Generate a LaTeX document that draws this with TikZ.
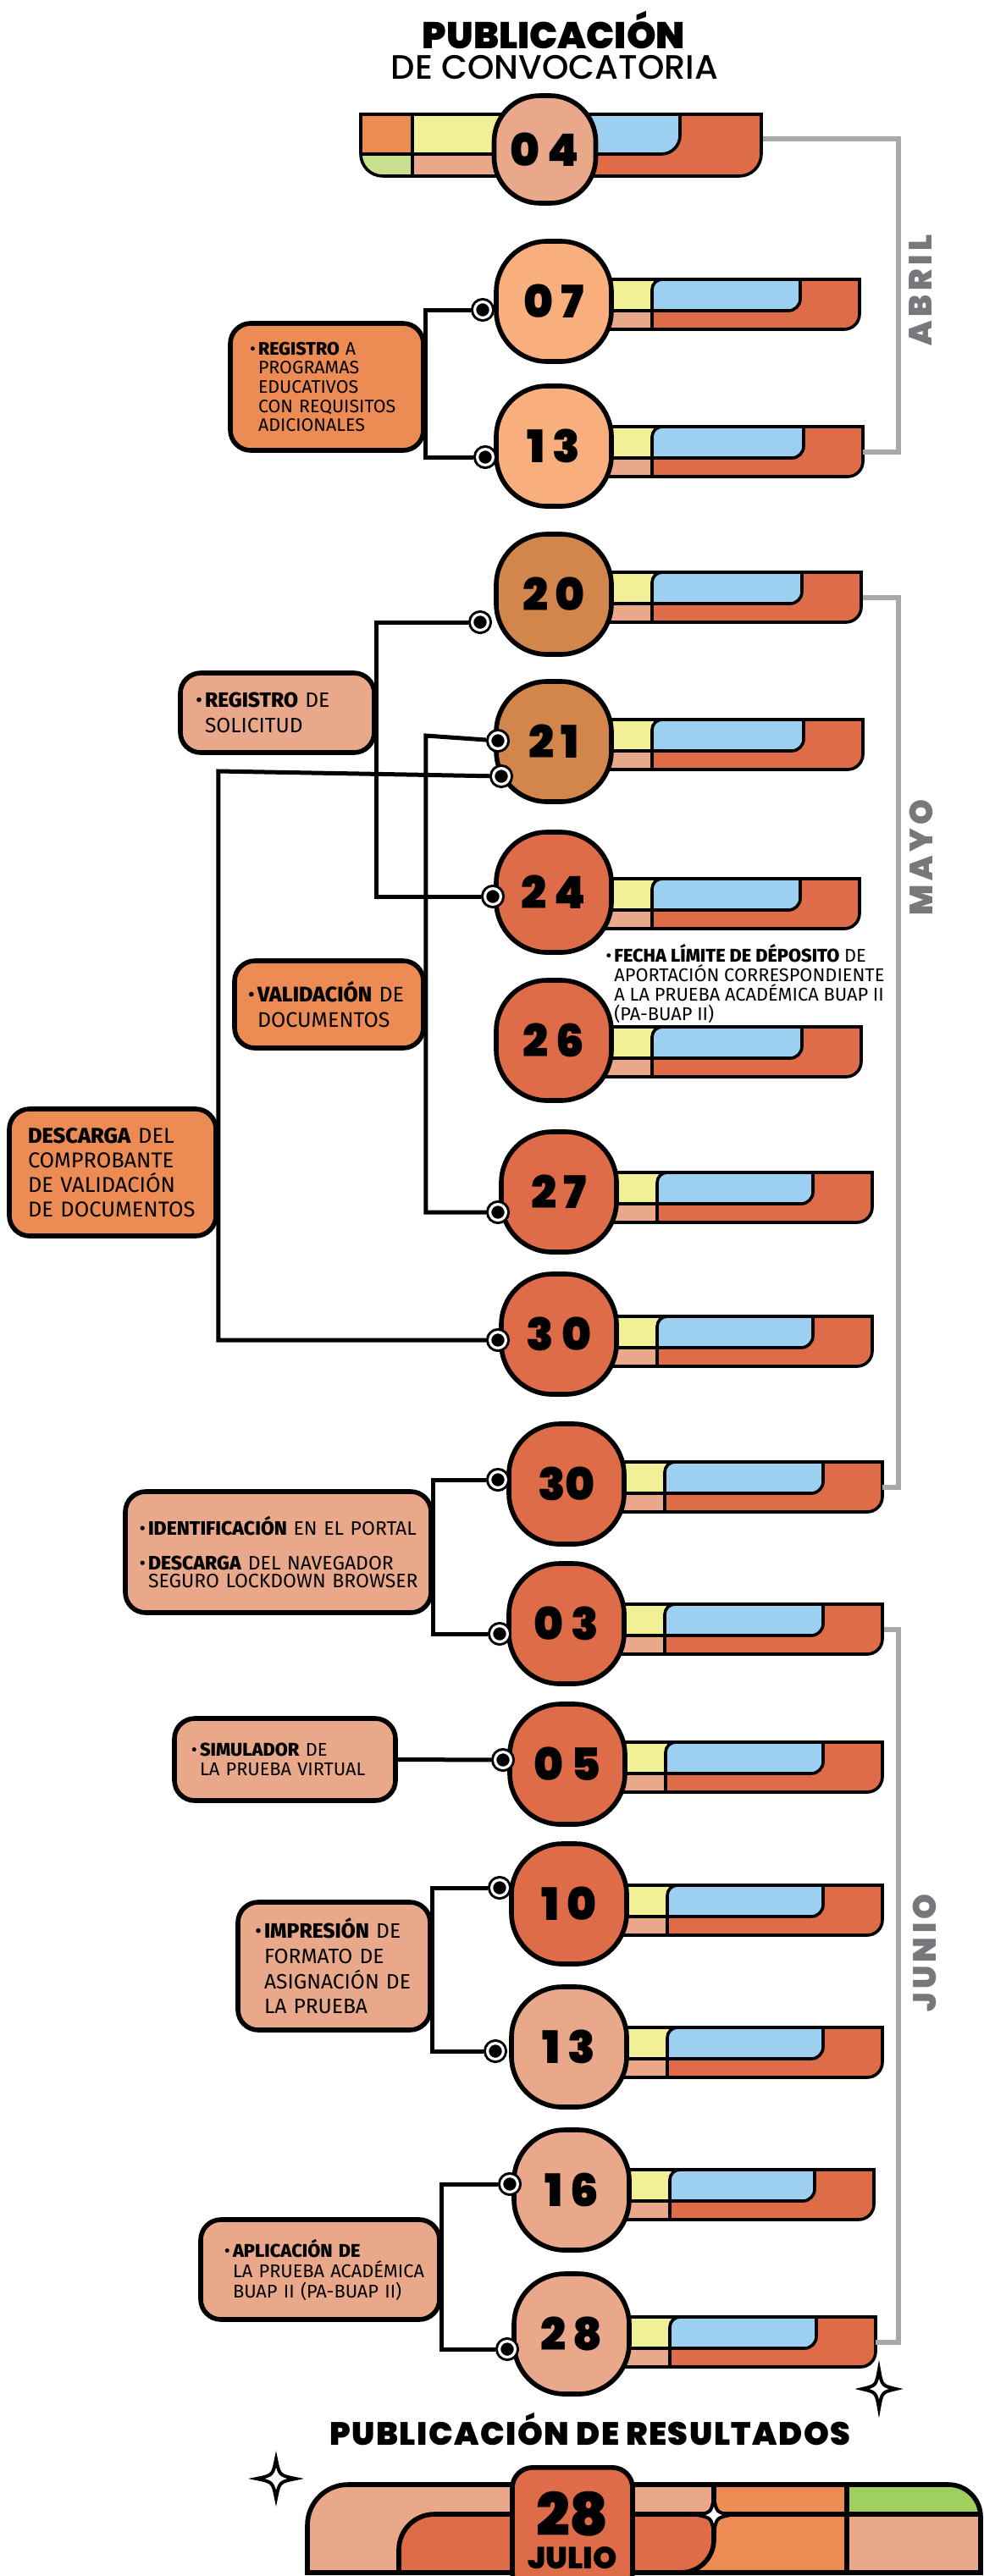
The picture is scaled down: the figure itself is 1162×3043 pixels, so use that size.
\documentclass[tikz,border=0pt]{standalone}
\usepackage{fontspec}
\setmainfont{Fira Sans}[BoldFont={* ExtraBold}]
\newfontfamily\gruesa{Poppins Black}
\newfontfamily\media{Poppins Medium}
\usetikzlibrary{positioning}

\definecolor{rosa}{HTML}{E9A88A}
\definecolor{naranja}{HTML}{EC8B53}
\definecolor{durazno}{HTML}{F8AF7D}
\definecolor{cafe}{HTML}{D3864B}
\definecolor{rojo}{HTML}{DE6C48}
\definecolor{amarillo}{HTML}{F2F096}
\definecolor{azul}{HTML}{9DCFF0}
\definecolor{verdeclaro}{HTML}{C9DF8E}
\definecolor{verde}{HTML}{9FCF5F}
\definecolor{grislinea}{HTML}{A7A8AA}
\definecolor{gristexto}{HTML}{76787B}

\newcommand{\vineta}{\leavevmode\llap{\textbullet\kern1.5pt}}

\begin{document}
\begin{tikzpicture}[
    x = 0.5pt, y = 0.5pt,
    borde/.style = {draw=black, line width=1.8pt},
    dia/.style = {rectangle, rounded corners=30pt, draw, line width=2.8pt,
        minimum width=68pt, minimum height=71pt, inner sep=0pt,
        font=\gruesa\fontsize{26.5}{26.5}\selectfont},
    caja/.style = {rectangle, rounded corners=12pt, draw, line width=2.8pt,
        align=left, inner ysep=0pt,
        execute at begin node={\hyphenpenalty=10000\exhyphenpenalty=10000}},
    punto/.style = {circle, draw=black, double=white, double distance=1.6pt,
        line width=1.5pt, fill=black, minimum size=9.4pt, inner sep=0pt, outer sep=2.3pt},
    linea/.style = {line width=2.5pt},
    mes/.style = {draw=grislinea, line width=2.6pt, shorten <=1pt},
    mesnombre/.style = {text=gristexto, rotate=90,
        font=\gruesa\fontsize{19}{19}\selectfont\addfontfeature{LetterSpace=12}},
    pics/fecha/.style n args = {4}{code={
        % barra: amarillo, rosa, azul y rojo
        \begin{scope}[yshift=#4]
        \fill[rojo] (0,26) -- (#3,26) -- (#3,-15) arc[start angle=0, end angle=-90, radius=18] -- (0,-33) -- cycle;
        \fill[amarillo] (0,26) rectangle (128,-11);
        \fill[rosa] (0,-11) rectangle (116,-33);
        \filldraw[fill=azul, borde] (116,-11) -- (116,14) arc[start angle=180, end angle=90, radius=12]
            -- (#3-70,26) -- (#3-70,3) arc[start angle=0, end angle=-90, radius=14] -- cycle;
        \draw[borde] (116,-11) -- (116,-33) (0,-11) -- (116,-11);
        \draw[borde] (0,26) -- (#3,26) -- (#3,-15) arc[start angle=0, end angle=-90, radius=18] -- (0,-33);
        \coordinate (-fin) at (#3,-4);
        \end{scope}
        \node[dia, fill=#2] (-n) at (0,0) {#1};
    }},
    estrella/.pic = {
        \draw[line width=2pt, fill=white] (0,1) .. controls (0.17,0.17) .. (1,0)
            .. controls (0.17,-0.17) .. (0,-1) .. controls (-0.17,-0.17) .. (-1,0)
            .. controls (-0.17,0.17) .. (0,1) -- cycle;
    }
]
    \useasboundingbox (0,0) rectangle (1162,-3043);

    % titulo
    \node[font=\gruesa\fontsize{22}{22}\selectfont, anchor=base, inner sep=0pt] (pub) at (654,-57) {PUBLICACIÓN};
    \node[font=\media\fontsize{20}{20}\selectfont, anchor=base, inner sep=0pt] (conv) at (655,-93) {DE CONVOCATORIA};

    % barra del 04
    \fill[rojo] (600,-135) -- (899,-135) -- (899,-182) arc[start angle=0, end angle=-90, radius=26] -- (600,-208) -- cycle;
    \fill[naranja] (426,-135) rectangle (487,-182);
    \fill[verdeclaro] (426,-182) -- (487,-182) -- (487,-208) -- (452,-208) arc[start angle=270, end angle=180, radius=26] -- cycle;
    \fill[amarillo] (487,-135) rectangle (600,-182);
    \fill[rosa] (487,-182) rectangle (600,-208);
    \filldraw[fill=azul, borde] (600,-135) -- (803,-135) -- (803,-160) arc[start angle=0, end angle=-90, radius=22] -- (600,-182) -- cycle;
    \draw[borde] (487,-135) -- (487,-208) (426,-182) -- (600,-182);
    \draw[borde] (426,-135) -- (899,-135) -- (899,-182) arc[start angle=0, end angle=-90, radius=26]
        -- (452,-208) arc[start angle=270, end angle=180, radius=26] -- cycle;
    \node[dia, fill=rosa, minimum width=60pt, minimum height=63.5pt, rounded corners=27pt] (f04) at (643.5,-176.5) {0\,4};
    \coordinate (fin04) at (899,-164);

    % fechas
    \pic (f07) at (654,-356) {fecha={0\,7}{durazno}{361}{0pt}};
    \pic (f13) at (654,-527) {fecha={1\,3}{durazno}{365}{-1.5pt}};
    \pic (f20) at (654,-702) {fecha={2\,0}{cafe}{363}{0pt}};
    \pic (f21) at (654,-876) {fecha={2\,1}{cafe}{365}{0pt}};
    \pic (f24) at (654,-1054) {fecha={2\,4}{rojo}{361}{-5pt}};
    \pic (f26) at (654,-1229) {fecha={2\,6}{rojo}{363}{-5pt}};
    \pic (f27) at (660,-1408) {fecha={2\,7}{rojo}{370}{-1.5pt}};
    \pic (f30) at (660,-1576) {fecha={3\,0}{rojo}{370}{-2.5pt}};
    \pic (f30b) at (669,-1753) {fecha={30}{rojo}{373}{0pt}};
    \pic (f03) at (669,-1918) {fecha={0\,3}{rojo}{373}{-1.5pt}};
    \pic (f05) at (670,-2084) {fecha={0\,5}{rojo}{372}{0pt}};
    \pic (f10) at (672,-2249) {fecha={1\,0}{rojo}{370}{-2pt}};
    \pic (f13j) at (672,-2418) {fecha={1\,3}{rosa}{370}{-1.5pt}};
    \pic (f16) at (675,-2587) {fecha={1\,6}{rosa}{357}{-1pt}};
    \pic (f28) at (675,-2757) {fecha={2\,8}{rosa}{359}{-3pt}};

    % actividades
    \node[caja, fill=naranja, text width=81pt, inner xsep=16.5pt, minimum height=75pt,
        font=\fontsize{10.7}{11.3}\selectfont] (regA) at (386,-457)
        {\vineta\textbf{REGISTRO}~A\\PROGRAMAS\\EDUCATIVOS\\CON~REQUISITOS\\ADICIONALES};
    \node[caja, fill=rosa, text width=85.5pt, inner xsep=14.5pt, minimum height=47pt,
        font=\fontsize{12.3}{15}\selectfont] (solic) at (327.5,-842)
        {\vineta\textbf{REGISTRO}~DE\\SOLICITUD};
    \node[caja, fill=naranja, text width=84.5pt, inner xsep=13.5pt, minimum height=51.5pt,
        font=\fontsize{12.5}{15}\selectfont] (valid) at (388.5,-1186.5)
        {\vineta\textbf{VALIDACIÓN}~DE\\DOCUMENTOS};
    \node[caja, fill=naranja, text width=100pt, inner xsep=11pt, minimum height=75pt,
        font=\fontsize{12.7}{14.5}\selectfont] (desc) at (133,-1385)
        {\textbf{DESCARGA}~DEL\\COMPROBANTE\\DE~VALIDACIÓN\\DE~DOCUMENTOS};
    \node[caja, fill=rosa, text width=153.5pt, inner xsep=13.5pt, minimum height=71.5pt,
        font=\fontsize{11.5}{10.8}\selectfont] (ident) at (328.5,-1833.5)
        {\vineta\textbf{IDENTIFICACIÓN}~EN~EL~PORTAL\\[9.5pt]\vineta\textbf{DESCARGA}~DEL~NAVEGADOR\\SEGURO~LOCKDOWN~BROWSER};
    \node[caja, fill=rosa, text width=100.5pt, inner xsep=15pt, minimum height=48.5pt,
        font=\fontsize{10.9}{11.3}\selectfont] (simul) at (336.5,-2078.5)
        {\vineta\textbf{SIMULADOR}~DE\\LA~PRUEBA~VIRTUAL};
    \node[caja, fill=rosa, text width=82.5pt, inner xsep=15.5pt, minimum height=75.5pt,
        font=\fontsize{12.3}{14.8}\selectfont] (impr) at (394.5,-2322.5)
        {\vineta\textbf{IMPRESIÓN}~DE\\FORMATO~DE\\ASIGNACIÓN~DE\\LA~PRUEBA};
    \node[caja, fill=rosa, text width=103pt, inner xsep=19pt, minimum height=59pt,
        font=\fontsize{10.9}{12}\selectfont] (aplic) at (378,-2681)
        {\vineta\textbf{APLICACIÓN~DE}\\LA~PRUEBA~ACADÉMICA\\BUAP~II~(PA-BUAP~II)};
    \node[align=left, anchor=west, inner sep=0pt, font=\fontsize{10.9}{11.5}\selectfont] (limite) at (725,-1162)
        {\vineta\textbf{FECHA LÍMITE DE DÉPOSITO} DE\\APORTACIÓN CORRESPONDIENTE\\A LA PRUEBA ACADÉMICA BUAP II\\(PA-BUAP II)};

    % puntos
    \node[punto] (p07) at (570,-366) {};
    \node[punto] (p13) at (573,-540) {};
    \node[punto] (p20) at (567,-735) {};
    \node[punto] (p21a) at (588,-875) {};
    \node[punto] (p21b) at (592,-917) {};
    \node[punto] (p24) at (582,-1059) {};
    \node[punto] (p27) at (588,-1432) {};
    \node[punto] (p30) at (588,-1583) {};
    \node[punto] (p30b) at (588,-1748) {};
    \node[punto] (p03) at (590,-1930) {};
    \node[punto] (p05) at (594,-2079) {};
    \node[punto] (p10) at (590,-2230) {};
    \node[punto] (p13j) at (585,-2423) {};
    \node[punto] (p16) at (602,-2580) {};
    \node[punto] (p28) at (599,-2775) {};

    % conectores
    \draw[linea] (p07) -| (regA.east) |- (p13);
    \draw[linea] (p20) -| (solic.east) |- (p24);
    \draw[linea] (p21a) -- ([yshift=3pt]p21a -| valid.east) |- (p27);
    \draw[linea] (p21b) -- ([yshift=3pt]p21b -| desc.east) |- (p30);
    \draw[linea] (p30b) -| (ident.east) |- (p03);
    \draw[linea] (simul.east) -- (p05);
    \draw[linea] (p10) -| (impr.east) |- (p13j);
    \draw[linea] (p16) -| (aplic.east) |- (p28);

    % meses
    \draw[mes] (fin04) -- ++(162,0) |- (f13-fin);
    \draw[mes] (f20-fin) -- ++(44,0) |- (f30b-fin);
    \draw[mes] (f03-fin) -- ++(19,0) |- (f28-fin);
    \node[mesnombre] (abril) at (1087,-343) {ABRIL};
    \node[mesnombre] (mayo) at (1088,-1013) {MAYO};
    \node[mesnombre] (junio) at (1092,-2307) {JUNIO};

    % resultados
    \pic[xscale=20, yscale=23] at (1038,-2822) {estrella};
    \pic[xscale=23, yscale=23] at (326,-2928) {estrella};
    \node[font=\gruesa\fontsize{19}{19}\selectfont\addfontfeature{LetterSpace=4}, anchor=base, inner sep=0pt] (res) at (697,-2888) {PUBLICACIÓN DE RESULTADOS};

    \fill[rosa] (363,-3039) -- (363,-2983) arc[start angle=180, end angle=90, radius=48]
        -- (1120,-2935) arc[start angle=90, end angle=0, radius=38] -- (1158,-3039) -- cycle;
    \fill[naranja] (843,-2935) rectangle (1000,-3039);
    \fill[naranja] (800,-2970) rectangle (843,-3039);
    \fill[verde] (1000,-2970) -- (1000,-2935) -- (1120,-2935) arc[start angle=90, end angle=0, radius=38] -- (1158,-2970) -- cycle;
    \fill[rojo] (747,-2970) -- (843,-2970) -- (843,-3000) arc[start angle=0, end angle=-90, radius=39] -- (747,-3039) -- cycle;
    \draw[line width=2.8pt] (747,-2970) -- (843,-2970) -- (843,-3000) arc[start angle=0, end angle=-90, radius=39];
    \fill[rojo] (471,-3039) -- (471,-3012) arc[start angle=180, end angle=90, radius=42] -- (605,-2970) -- (605,-3039) -- cycle;
    \draw[line width=2.8pt] (471,-3039) -- (471,-3012) arc[start angle=180, end angle=90, radius=42] -- (605,-2970);
    \draw[line width=2.8pt] (843,-2935) -- (843,-2970) -- (1158,-2970) (1000,-2935) -- (1000,-3039);
    \draw[line width=2.8pt] (363,-3039) -- (363,-2983) arc[start angle=180, end angle=90, radius=48]
        -- (1120,-2935) arc[start angle=90, end angle=0, radius=38] -- (1158,-3039) -- cycle;
    \node[fill=rojo, draw, line width=2.8pt, rounded corners=12pt, minimum width=71pt, minimum height=74pt,
        anchor=north, align=center, inner sep=0pt, font=\gruesa\fontsize{18}{19.5}\selectfont] (bloque) at (676,-2912)
        {{\fontsize{35}{35}\selectfont 28}\\JULIO};
    \pic[xscale=19, yscale=20] at (843,-2971) {estrella};
\end{tikzpicture}
\end{document}
